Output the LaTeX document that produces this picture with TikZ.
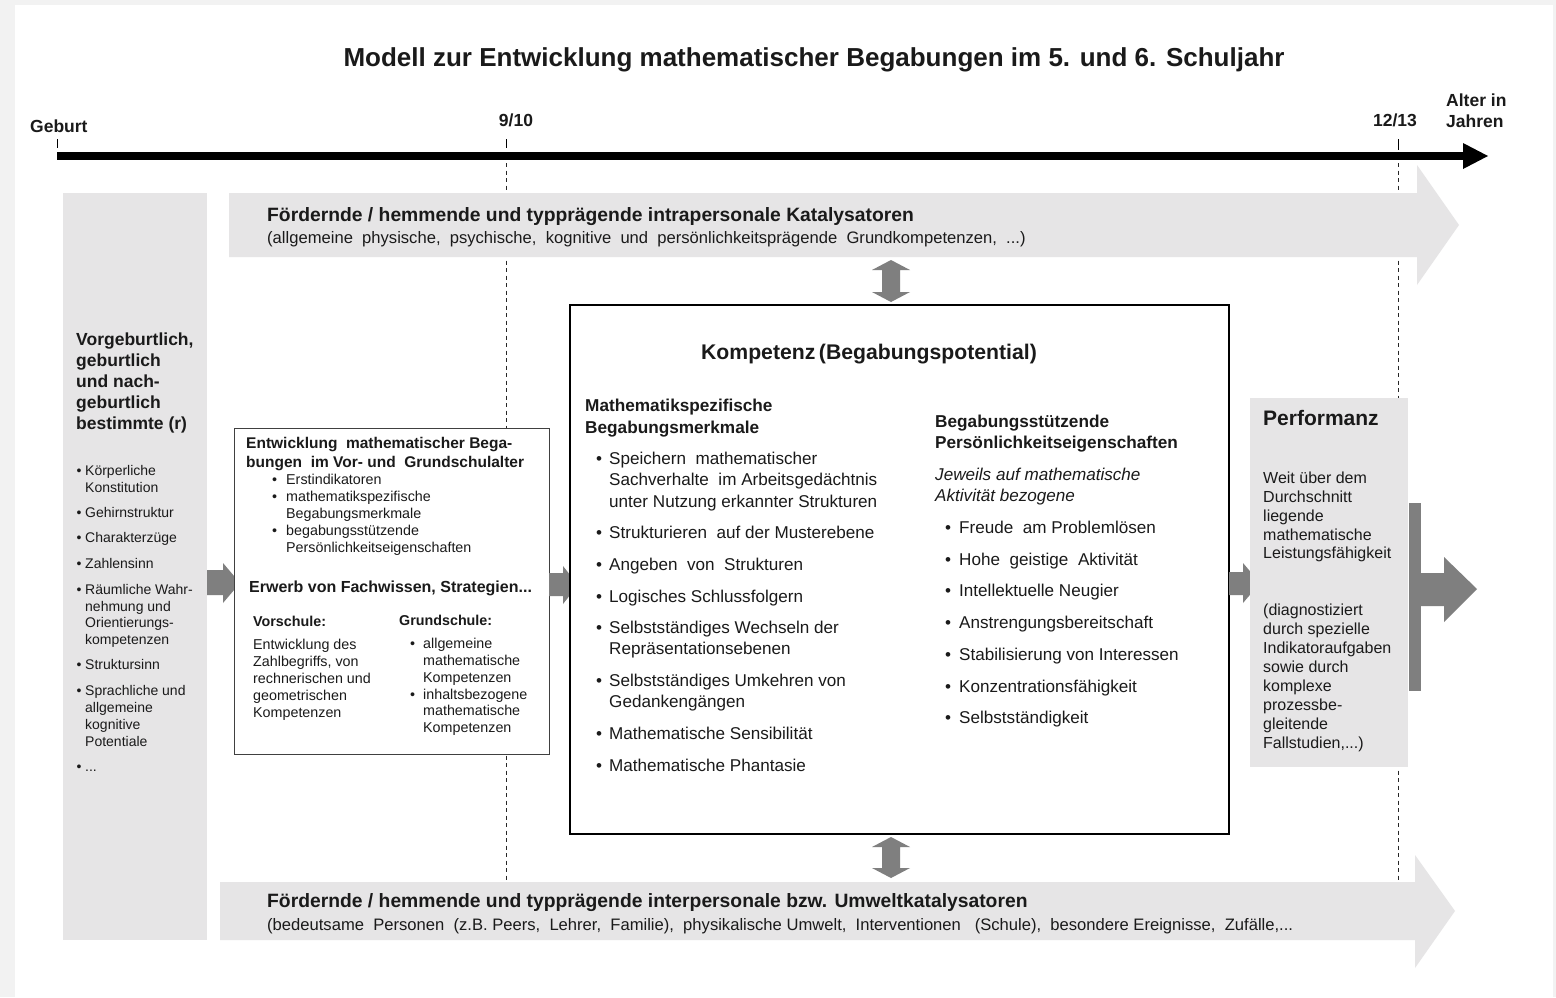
\documentclass[tikz,border=0pt]{standalone}
\usepackage{fontspec}
\setmainfont{Liberation Sans}
\definecolor{lg}{HTML}{E6E5E6}
\definecolor{dg}{HTML}{7F7F7F}
\definecolor{framec}{HTML}{F2F2F2}
\definecolor{txt}{HTML}{1A1A1A}
\definecolor{sbord}{HTML}{404040}
\tikzset{
  tl/.style={anchor=base west, inner sep=0pt, text=txt},
  tc/.style={anchor=base, inner sep=0pt, text=txt},
  fTitle/.style={font=\fontsize{26}{30}\selectfont\bfseries},
  fAxis/.style={font=\fontsize{17.5}{21}\selectfont\bfseries},
  fArB/.style={font=\fontsize{19.3}{22}\selectfont\bfseries},
  fArR/.style={font=\fontsize{16.6}{19}\selectfont},
  fLb/.style={font=\fontsize{17.5}{21}\selectfont\bfseries},
  fLs/.style={font=\fontsize{14}{16}\selectfont},
  fSb/.style={font=\fontsize{15.5}{18}\selectfont\bfseries},
  fSs/.style={font=\fontsize{14.3}{16}\selectfont},
  fSh/.style={font=\fontsize{14.3}{16}\selectfont\bfseries},
  fSe/.style={font=\fontsize{16}{19}\selectfont\bfseries},
  fKt/.style={font=\fontsize{21.2}{24}\selectfont\bfseries},
  fKb/.style={font=\fontsize{17.2}{20}\selectfont\bfseries},
  fKr/.style={font=\fontsize{17.1}{20}\selectfont},
  fKi/.style={font=\fontsize{17.1}{20}\selectfont\itshape},
  fPt/.style={font=\fontsize{21}{24}\selectfont\bfseries},
  fPr/.style={font=\fontsize{16}{19}\selectfont},
  lgbox/.style={fill=lg, draw=none, inner sep=0pt, anchor=north west},
  dline/.style={draw=black!85, line width=0.9pt, dash pattern=on 4pt off 3.5pt},
}
\begin{document}
\begin{tikzpicture}[x=1pt,y=-1pt]
\useasboundingbox (0,0) rectangle (1556,997);
\fill[framec] (0,0) rectangle (1556,997);
\fill[white] (15,5) rectangle (1553,997);

% title
\node[tc,fTitle] (title) at (814,66) {Modell zur Entwicklung mathematischer Begabungen im 5. und 6. Schuljahr};

% time axis
\node[tl,fAxis] (geburt) at (30,132) {Geburt};
\node[tc,fAxis] (t910) at (516,126) {9/10};
\node[tc,fAxis] (t1213) at (1395,126) {12/13};
\node[tl,fAxis] (alter1) at (1446,106) {Alter in};
\node[tl,fAxis] (alter2) at (1446,127) {Jahren};
\coordinate (axS) at (57,156);
\coordinate (axE) at (1464,156);
\draw[line width=8pt, black] (axS) -- (axE);
\fill[black] (1463,143) -- (1488,156) -- (1463,169) -- cycle;
\draw[black, line width=0.9pt] (57,139) -- (57,148);
\draw[black, line width=0.9pt] (506,139) -- (506,148);
\draw[black, line width=0.9pt] (1398,139) -- (1398,150);

% dashed age lines
\draw[dline] (506,163) -- (506,882);
\draw[dline] (1398,163) -- (1398,882);

% top catalyst arrow
\fill[lg] (229,193) -- (1417,193) -- (1417,165) -- (1459,225) -- (1417,285) -- (1417,257) -- (229,257) -- cycle;
\node[tl,fArB] (intraB) at (267,221) {Fördernde / hemmende und typprägende intrapersonale Katalysatoren};
\node[tl,fArR] (intraR) at (267,243) {(allgemeine\ \ physische,\ \ psychische,\ \ kognitive\ \ und\ \ persönlichkeitsprägende\ \ Grundkompetenzen,\ \ ...)};

% bottom catalyst arrow
\fill[lg] (220,882) -- (1415,882) -- (1415,855) -- (1455,911) -- (1415,968) -- (1415,940) -- (220,940) -- cycle;
\node[tl,fArB] (interB) at (267,907) {Fördernde / hemmende und typprägende interpersonale bzw. Umweltkatalysatoren};
\node[tl,fArR] (interR) at (267,930) {(bedeutsame\ \ Personen\ \ (z.B. Peers,\ \ Lehrer,\ \ Familie),\ \ physikalische Umwelt,\ \ Interventionen\ \ \ (Schule),\ \ besondere Ereignisse,\ \ Zufälle,...};

% left column
\node[lgbox, minimum width=144, minimum height=747] (left) at (63,193) {};
\foreach \y/\s [count=\i] in {345/{Vorgeburtlich,},366/geburtlich,387/{und nach-},408/geburtlich,429/{bestimmte (r)}}
  \node[tl,fLb,name=lh\i] at (76,\y) {\s};
\foreach \y/\s [count=\i] in {475.5/Körperliche,492.5/Konstitution,517.5/Gehirnstruktur,542.5/Charakterzüge,568.5/Zahlensinn,594.5/{Räumliche Wahr-},611.5/{nehmung und},627.5/Orientierungs-,644.5/kompetenzen,669.5/Struktursinn,695.5/{Sprachliche und},712.5/allgemeine,729.5/kognitive,746.5/Potentiale,771.5/{...}}
  \node[tl,fLs,name=ll\i] at (85,\y) {\s};
\foreach \y [count=\i] in {475.5,517.5,542.5,568.5,594.5,669.5,695.5,771.5}
  \node[tl,fLs,name=lb\i] at (76.5,\y) {•};

% arrow left -> small box
\fill[dg] (207,570) -- (223,570) -- (223,563) -- (240,583) -- (223,603) -- (223,595) -- (207,595) -- cycle;

% small box
\node[draw=sbord, line width=1.3pt, fill=white, inner sep=0pt, anchor=north west, minimum width=315, minimum height=326] (small) at (234,428) {};
\node[tl,fSb] (s1) at (246,448) {Entwicklung\ \ mathematischer Bega-};
\node[tl,fSb] (s2) at (246,467) {bungen\ \ im Vor- und\ \ Grundschulalter};
\foreach \y/\s [count=\i] in {484.5/Erstindikatoren,501.5/mathematikspezifische,518.5/Begabungsmerkmale,535.5/begabungsstützende,552.5/Persönlichkeitseigenschaften}
  \node[tl,fSs,name=sl\i] at (286,\y) {\s};
\foreach \y [count=\i] in {484.5,501.5,535.5}
  \node[tl,fSs,name=sb\i] at (272,\y) {•};
\node[tl,fSe] (erwerb) at (249,592) {Erwerb von Fachwissen, Strategien...};
\node[tl,fSh] (vors) at (253,626.5) {Vorschule:};
\node[tl,fSh] (grunds) at (399,625.5) {Grundschule:};
\foreach \y/\s [count=\i] in {649.5/{Entwicklung des},666.5/{Zahlbegriffs, von},683.5/{rechnerischen und},700.5/geometrischen,717.5/Kompetenzen}
  \node[tl,fSs,name=vl\i] at (253,\y) {\s};
\foreach \y/\s [count=\i] in {648.5/allgemeine,665.5/mathematische,682.5/Kompetenzen,699.5/inhaltsbezogene,715.5/mathematische,732.5/Kompetenzen}
  \node[tl,fSs,name=gl\i] at (423,\y) {\s};
\foreach \y [count=\i] in {648.5,699.5}
  \node[tl,fSs,name=gb\i] at (410,\y) {•};

% arrow small box -> competence box
\fill[dg] (549,573) -- (563,573) -- (563,566) -- (578,585) -- (563,604) -- (563,596) -- (549,596) -- cycle;

% competence box
\node[draw=black, line width=2pt, fill=white, inner sep=0pt, anchor=north west, minimum width=659, minimum height=529] (komp) at (569,304) {};
\node[tc,fKt] (kt) at (869,359) {Kompetenz\,(Begabungspotential)};
\node[tl,fKb] (kl1) at (585,411.5) {Mathematikspezifische};
\node[tl,fKb] (kl2) at (585,433.5) {Begabungsmerkmale};
\foreach \y/\s [count=\i] in {464.5/{Speichern\ \ mathematischer},485.5/{Sachverhalte\ \ im Arbeitsgedächtnis},507.5/{unter Nutzung erkannter Strukturen},538.5/{Strukturieren\ \ auf der Musterebene},570.5/{Angeben\ \ von\ \ Strukturen},602.5/{Logisches Schlussfolgern},633.5/{Selbstständiges Wechseln der},654.5/{Repräsentationsebenen},686.5/{Selbstständiges Umkehren von},707.5/{Gedankengängen},739.5/{Mathematische Sensibilität},771.5/{Mathematische Phantasie}}
  \node[tl,fKr,name=ka\i] at (609,\y) {\s};
\foreach \y [count=\i] in {464.5,538.5,570.5,602.5,633.5,686.5,739.5,771.5}
  \node[tl,fKr,name=kab\i] at (596,\y) {•};
\node[tl,fKb] (kr1) at (935,427.5) {Begabungsstützende};
\node[tl,fKb] (kr2) at (935,448.5) {Persönlichkeitseigenschaften};
\node[tl,fKi] (ki1) at (935,480.5) {Jeweils auf mathematische};
\node[tl,fKi] (ki2) at (935,501.5) {Aktivität bezogene};
\foreach \y/\s [count=\i] in {533.5/{Freude\ \ am Problemlösen},565.5/{Hohe\ \ geistige\ \ Aktivität},596.5/{Intellektuelle Neugier},628.5/{Anstrengungsbereitschaft},660.5/{Stabilisierung von Interessen},692.5/{Konzentrationsfähigkeit},723.5/{Selbstständigkeit}}
  \node[tl,fKr,name=kb\i] at (959,\y) {\s};
\foreach \y [count=\i] in {533.5,565.5,596.5,628.5,660.5,692.5,723.5}
  \node[tl,fKr,name=kbb\i] at (945,\y) {•};

% double arrows
\fill[dg] (891,260) -- (910,270) -- (900,270) -- (900,292) -- (910,292) -- (891,302) -- (872,292) -- (882,292) -- (882,270) -- (872,270) -- cycle;
\fill[dg] (891,837) -- (910,847) -- (900,847) -- (900,868) -- (910,868) -- (891,878) -- (872,868) -- (882,868) -- (882,847) -- (872,847) -- cycle;

% arrow competence -> performance
\fill[dg] (1229,572) -- (1243,572) -- (1243,563) -- (1260,583) -- (1243,603) -- (1243,595) -- (1229,595) -- cycle;

% performance box
\node[lgbox, minimum width=158, minimum height=369] (perf) at (1250,398) {};
\node[tl,fPt] (pt) at (1263,425) {Performanz};
\foreach \y/\s [count=\i] in {483/{Weit über dem},502/{Durchschnitt},521/{liegende},540/{mathematische},558/{Leistungsfähigkeit},615/{(diagnostiziert},634/{durch spezielle},653/{Indikatoraufgaben},672/{sowie durch},691/{komplexe},710/{prozessbe-},729/{gleitende},748/{Fallstudien,...)}}
  \node[tl,fPr,name=pl\i] at (1263,\y) {\s};

% output bar and arrow
\fill[dg] (1409,503) rectangle (1421,691);
\fill[dg] (1421,573) -- (1444,573) -- (1444,557) -- (1477,589) -- (1444,622) -- (1444,606) -- (1421,606) -- cycle;
\end{tikzpicture}
\end{document}
